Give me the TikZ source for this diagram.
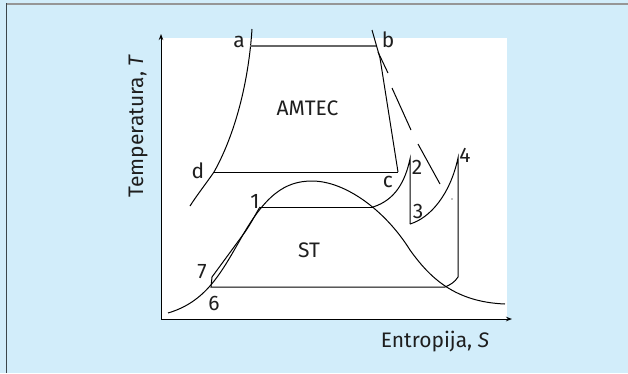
\documentclass[tikz,border=0pt]{standalone}
\usepackage{fontspec}
\setmainfont{Fira Sans}
\usetikzlibrary{arrows.meta}
\definecolor{bgblue}{RGB}{210,237,250}
\definecolor{txt}{RGB}{30,30,30}
\definecolor{frametop}{RGB}{150,150,150}
\definecolor{frameleft}{RGB}{60,70,75}
\begin{document}
\begin{tikzpicture}[x=1pt,y=-1pt,
  curve/.style={line width=1pt,black},
  lab/.style={anchor=base,inner sep=0pt,text=txt,font=\fontsize{21}{25}\selectfont},
  axis/.style={line width=1pt,black,-{Stealth[length=6pt,width=4.5pt]}}]
\useasboundingbox (0,0) rectangle (628,373);
\fill[bgblue] (0,0) rectangle (628,373);
\fill[white] (161,38) rectangle (507,319);
\draw[frametop,line width=1.3pt] (6,4) -- (628,4);
\draw[frameleft,line width=1.3pt] (6.6,3.4) -- (6.6,373);
% points
\coordinate (O) at (161,319);
\coordinate (Ty) at (161,34);
\coordinate (Sx) at (512,319);
\coordinate (atop) at (252,29);
\coordinate (a) at (250,46);
\coordinate (d) at (214,172);
\coordinate (dend) at (190,206);
\coordinate (btop) at (372,30);
\coordinate (b) at (377,46);
\coordinate (bk) at (380,58);
\coordinate (c) at (398,172);
\coordinate (p1) at (260,207);
\coordinate (v1) at (373,207);
\coordinate (p2) at (410,159);
\coordinate (p3) at (410,224);
\coordinate (p4) at (458,158);
\coordinate (p4b) at (458,277);
\coordinate (p5) at (445,287);
\coordinate (p6) at (211,287);
\coordinate (p7) at (212,277);
% axes
\draw[axis] (O) -- (Ty);
\draw[axis] (O) -- (Sx);
% AMTEC cycle
\draw[curve] (atop) .. controls (248,90) and (232,140) .. (d) .. controls (205,185) and (197,195) .. (dend);
\draw[gray!80!black,line width=1.3pt] (a) -- (b);
\draw[curve] (btop) -- (bk) -- (c);
\draw[curve] (d) -- (c);
% dashed line
\draw[curve] (378,52) -- (388,73);
\draw[curve] (392,88) -- (411,130);
\draw[curve] (418,144) -- (440,184);
% dome
\draw[curve] (168,313) .. controls (205,302) and (220,275) .. (240,240)
  .. controls (265,195) and (285,181) .. (312,181)
  .. controls (345,181) and (385,210) .. (410,250)
  .. controls (430,278) and (455,302) .. (505,304);
% ST cycle
\draw[curve] (p1) -- (v1);
\draw[curve] (v1) .. controls (395,200) and (405,182) .. (p2) -- (p3);
\draw[curve] (p3) .. controls (430,218) and (450,195) .. (p4) -- (p4b);
\draw[curve] (p4b) .. controls (455,282) and (450,285) .. (p5) -- (p6) -- (p7);
\draw[curve] (p7) -- (245,232) .. controls (252,222) and (256,213) .. (p1);
\fill (452,199) circle (0.6);
% labels
\node[lab] (la) at (239,47) {a};
\node[lab] (lb) at (388,47) {b};
\node[lab] (lc) at (388,187) {c};
\node[lab] (ld) at (198,178) {d};
\node[lab] (l1) at (255,208) {1};
\node[lab] (l2) at (417,174) {2};
\node[lab] (l3) at (418,218) {3};
\node[lab] (l4) at (465,162) {4};
\node[lab] (l6) at (214,310) {6};
\node[lab] (l7) at (202,278) {7};
\node[lab] (amtec) at (307.5,115) {AMTEC};
\node[lab] (st) at (309,257) {ST};
\node[lab] (xlab) at (435,347) {Entropija, \textit{S}};
\node[lab,rotate=90] (ylab) at (143,126) {Temperatura, \textit{T}};
\end{tikzpicture}
\end{document}
